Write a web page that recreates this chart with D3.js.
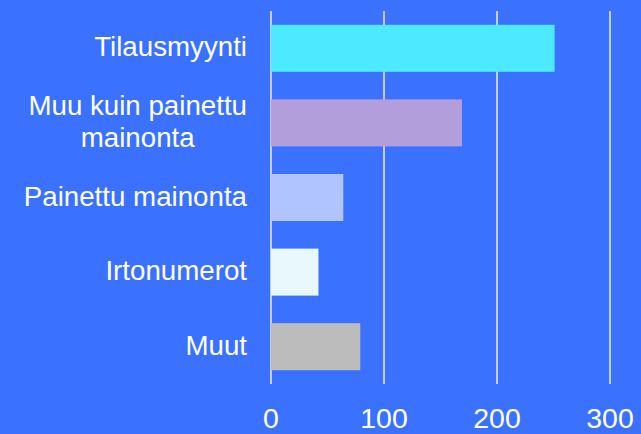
<!DOCTYPE html>
<html>
<head>
<meta charset="utf-8">
<script src="https://cdn.jsdelivr.net/npm/d3@7"></script>
<style>
  html, body { margin: 0; padding: 0; background: #3a72ff; }
  svg { display: block; }
  text { font-family: "Liberation Sans", Arial, sans-serif; fill: #ffffff; }
</style>
</head>
<body>
<svg id="chart" width="641" height="434"></svg>
<script>
const categories = ["Tilausmyynti", "Muu kuin painettu\nmainonta", "Painettu mainonta", "Irtonumerot", "Muut"];
const values = [251, 169, 64, 42, 79];
const barColors = ["#4deaff", "#b39edc", "#b0c4ff", "#e8f8fd", "#bcbcbc"];
const tickValues = [0, 100, 200, 300];

const svg = d3.select("#chart");
const W = 641, H = 434;
svg.append("rect").attr("width", W).attr("height", H).attr("fill", "#3a72ff");

const x = d3.scaleLinear().domain([0, 300]).range([271, 610]);
const y = d3.scaleBand().domain(categories).range([11, 384]).paddingInner(0.37).paddingOuter(0.185);

// gridlines
const grid = svg.append("g");
grid.selectAll("line").data(tickValues).join("line")
  .attr("x1", d => x(d)).attr("x2", d => x(d))
  .attr("y1", 11).attr("y2", 384)
  .attr("stroke", "#c6cbe4").attr("stroke-width", 2);

// bars
svg.append("g").selectAll("rect").data(categories).join("rect")
  .attr("x", x(0))
  .attr("y", d => y(d))
  .attr("width", (d, i) => x(values[i]) - x(0))
  .attr("height", y.bandwidth())
  .attr("fill", (d, i) => barColors[i]);

// category labels
const labelRight = 247;
const lg = svg.append("g");
categories.forEach(c => {
  const lines = c.split("\n");
  const cy = y(c) + y.bandwidth() / 2;
  const lh = 31.6;
  const t = lg.append("text").attr("font-size", 27.7).attr("text-anchor", "middle");
  const spans = lines.map((ln, k) => t.append("tspan").text(ln));
  const widths = spans.map(s => s.node().getComputedTextLength());
  const maxW = Math.max(...widths);
  const cx = labelRight - maxW / 2;
  const base0 = cy + 8 - (lines.length - 1) * lh / 2;
  spans.forEach((s, k) => s.attr("x", cx).attr("y", base0 + k * lh));
});

// x axis tick labels
const ax = svg.append("g");
ax.selectAll("text").data(tickValues).join("text")
  .attr("x", d => x(d)).attr("y", 427.5)
  .attr("font-size", 28.5).attr("text-anchor", "middle")
  .text(d => d3.format("d")(d));
</script>
</body>
</html>
